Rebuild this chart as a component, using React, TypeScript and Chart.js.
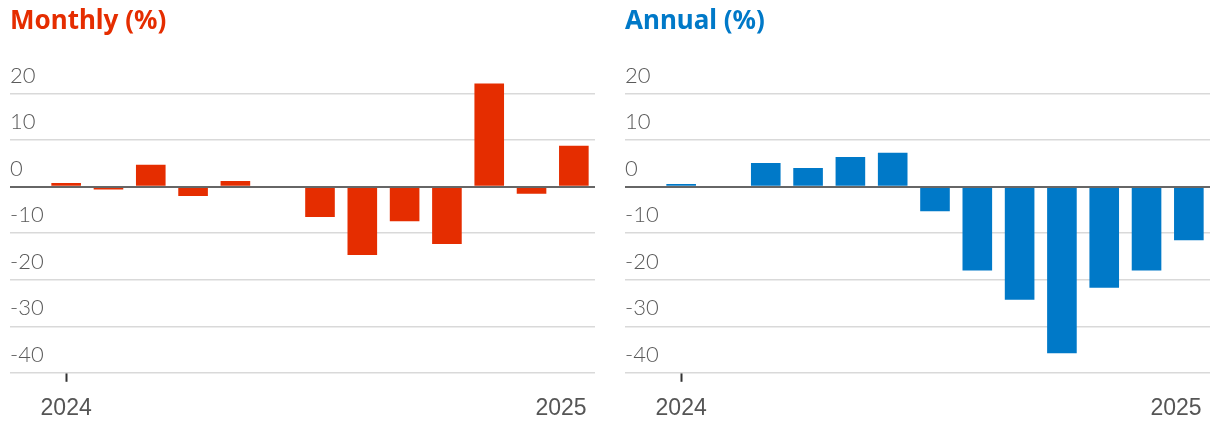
import React, { useEffect, useRef } from 'react';
import { Chart, registerables } from 'chart.js';

Chart.register(...registerables);

const months = [
  'Jan 2024', 'Feb 2024', 'Mar 2024', 'Apr 2024', 'May 2024', 'Jun 2024', 'Jul 2024',
  'Aug 2024', 'Sep 2024', 'Oct 2024', 'Nov 2024', 'Dec 2024', 'Jan 2025',
];
const monthlyValues = [0.8, -0.6, 4.7, -2.0, 1.2, 0, -6.5, -14.7, -7.4, -12.3, 22.2, -1.5, 8.8];
const annualValues = [0.6, 0, 5.1, 4.0, 6.4, 7.3, -5.3, -18.0, -24.3, -35.8, -21.7, -18.0, -11.5];
const xTickLabels: Record<number, string> = { 0: '2024', 12: '2025    ' };
const yTickValues = [20, 10, 0, -10, -20, -30, -40];
const yMin = -40;
const yMax = 25;

const RED = '#e52d00';
const BLUE = '#0079c8';

type PanelProps = { title: string; color: string; values: number[]; left: number };

function Panel({ title, color, values, left }: PanelProps) {
  const ref = useRef<HTMLCanvasElement | null>(null);
  useEffect(() => {
    if (!ref.current) return;
    const chart = new Chart(ref.current, {
      type: 'bar',
      data: {
        labels: months,
        datasets: [
          {
            data: values,
            backgroundColor: color,
            borderWidth: 0,
            barPercentage: 0.7,
            categoryPercentage: 1,
            yAxisID: 'y',
          },
        ],
      },
      options: {
        animation: false,
        responsive: false,
        events: [],
        layout: { padding: { left: 10, right: 10, top: 0, bottom: 2.6 } },
        plugins: {
          legend: { display: false },
          tooltip: { enabled: false },
          title: {
            display: true,
            text: title,
            align: 'start',
            color,
            font: { family: 'Noto Sans', size: 26, weight: 'bold', lineHeight: 1.2 },
            padding: { top: 6, bottom: 33.2 },
          },
        },
        scales: {
          x: {
            grid: {
              display: true,
              drawOnChartArea: false,
              offset: false,
              tickLength: 9,
              tickWidth: 2,
              tickColor: (ctx: any) => (xTickLabels[ctx.index] ? '#333' : 'rgba(0,0,0,0)'),
            },
            border: { display: false },
            ticks: {
              autoSkip: false,
              maxRotation: 0,
              minRotation: 0,
              padding: 13,
              color: '#555',
              font: { family: 'Liberation Sans', size: 23 },
              callback: (_v: any, i: number) => xTickLabels[i] ?? null,
            },
            afterFit: (s: any) => {
              s.paddingLeft = 0;
              s.paddingRight = 0;
            },
          },
          y: {
            type: 'linear',
            position: 'left',
            min: yMin,
            max: yMax,
            afterBuildTicks: (s: any) => {
              s.ticks = yTickValues.map((v) => ({ value: v }));
            },
            grid: {
              color: (ctx: any) => (ctx.tick && ctx.tick.value === 0 ? '#666' : '#d9d9d9'),
              lineWidth: (ctx: any) => (ctx.tick && ctx.tick.value === 0 ? 2 : 1.5),
              drawTicks: true,
              tickLength: 35,
            },
            border: { display: false },
            ticks: {
              crossAlign: 'far',
              labelOffset: -18,
              padding: 0,
              color: '#5a5a5a',
              font: { family: 'Lato', size: 22, weight: 300 },
            },
            afterFit: (s: any) => {
              s.width = 35;
              s.paddingTop = 0;
              s.paddingBottom = 0;
            },
          },
          yz: {
            type: 'linear',
            position: 'left',
            min: yMin,
            max: yMax,
            afterBuildTicks: (s: any) => {
              s.ticks = [{ value: 0 }];
            },
            grid: { color: '#666', lineWidth: 2, drawTicks: false, z: 1 },
            border: { display: false },
            ticks: { display: false },
            afterFit: (s: any) => {
              s.width = 0;
              s.paddingTop = 0;
              s.paddingBottom = 0;
            },
          },
        },
      } as any,
    });
    return () => chart.destroy();
  }, [title, color, values]);

  return (
    <div style={{ position: 'absolute', left, top: 0, width: 605, height: 438 }}>
      <canvas ref={ref} width={605} height={438} style={{ width: 605, height: 438, display: 'block' }} />
    </div>
  );
}

export default function App() {
  return (
    <div>
      <Panel title="Monthly (%)" color={RED} values={monthlyValues} left={0} />
      <Panel title="Annual (%)" color={BLUE} values={annualValues} left={615} />
    </div>
  );
}
